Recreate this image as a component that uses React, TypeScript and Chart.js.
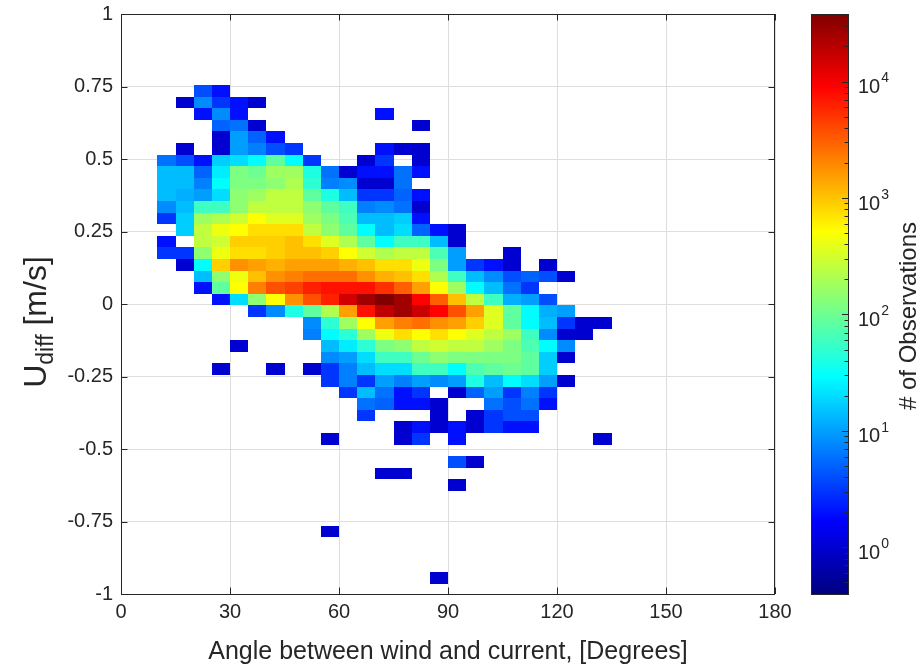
import React, { useEffect, useRef } from "react";
import { Chart, registerables } from "chart.js";

Chart.register(...registerables);

// ---------- data ----------
// bin centres of the 2-D histogram
const angleCenters = [
  12.5, 17.5, 22.5, 27.5, 32.5, 37.5, 42.5, 47.5, 52.5, 57.5, 62.5, 67.5, 72.5,
  77.5, 82.5, 87.5, 92.5, 97.5, 102.5, 107.5, 112.5, 117.5, 122.5, 127.5, 132.5,
];
const uDiffCenters = [
  0.735, 0.695, 0.655, 0.615, 0.575, 0.535, 0.495, 0.455, 0.415, 0.375, 0.335,
  0.295, 0.255, 0.215, 0.175, 0.135, 0.095, 0.055, 0.015, -0.025, -0.065,
  -0.105, -0.145, -0.185, -0.225, -0.265, -0.305, -0.345, -0.385, -0.425,
  -0.465, -0.505, -0.545, -0.585, -0.625, -0.665, -0.705, -0.745, -0.785,
  -0.825, -0.865, -0.905, -0.945,
];
const angleBinWidth = 5;
const uDiffBinHeight = 0.04;

// number of observations per cell (rows follow uDiffCenters, columns angleCenters)
const counts = [
  [0, 0, 4, 2, 0, 0, 0, 0, 0, 0, 0, 0, 0, 0, 0, 0, 0, 0, 0, 0, 0, 0, 0, 0, 0],
  [0, 1, 8, 3, 2, 1, 0, 0, 0, 0, 0, 0, 0, 0, 0, 0, 0, 0, 0, 0, 0, 0, 0, 0, 0],
  [0, 0, 2, 8, 2, 0, 0, 0, 0, 0, 0, 0, 2, 0, 0, 0, 0, 0, 0, 0, 0, 0, 0, 0, 0],
  [0, 0, 0, 5, 6, 1, 0, 0, 0, 0, 0, 0, 0, 0, 1, 0, 0, 0, 0, 0, 0, 0, 0, 0, 0],
  [0, 0, 0, 1, 10, 5, 2, 0, 0, 0, 0, 0, 0, 0, 0, 0, 0, 0, 0, 0, 0, 0, 0, 0, 0],
  [0, 1, 0, 1, 10, 7, 4, 3, 0, 0, 0, 0, 2, 1, 1, 0, 0, 0, 0, 0, 0, 0, 0, 0, 0],
  [6, 4, 2, 17, 20, 29, 85, 29, 3, 0, 0, 1, 3, 0, 1, 0, 0, 0, 0, 0, 0, 0, 0, 0, 0],
  [14, 14, 5, 24, 120, 100, 175, 175, 40, 6, 1, 2, 2, 6, 2, 0, 0, 0, 0, 0, 0, 0, 0, 0, 0],
  [14, 14, 7, 29, 120, 120, 145, 210, 48, 7, 8, 1, 1, 6, 0, 0, 0, 0, 0, 0, 0, 0, 0, 0, 0],
  [14, 12, 10, 20, 145, 175, 250, 250, 85, 40, 14, 3, 3, 5, 2, 0, 0, 0, 0, 0, 0, 0, 0, 0, 0],
  [8, 14, 59, 59, 145, 250, 250, 250, 145, 85, 59, 7, 8, 6, 1, 0, 0, 0, 0, 0, 0, 0, 0, 0, 0],
  [3, 17, 175, 210, 300, 510, 360, 360, 175, 120, 70, 14, 14, 17, 2, 0, 0, 0, 0, 0, 0, 0, 0, 0, 0],
  [0, 17, 250, 430, 510, 740, 740, 740, 250, 145, 85, 29, 14, 20, 5, 2, 1, 0, 0, 0, 0, 0, 0, 0, 0],
  [2, 0, 250, 300, 880, 880, 880, 1050, 740, 360, 210, 85, 29, 59, 59, 14, 1, 0, 0, 0, 0, 0, 0, 0, 0],
  [3, 3, 145, 430, 740, 740, 880, 1050, 1050, 880, 510, 300, 210, 250, 250, 70, 10, 0, 0, 1, 0, 0, 0, 0, 0],
  [0, 1, 29, 880, 1800, 1500, 1250, 1500, 1500, 1500, 1250, 1050, 740, 740, 430, 120, 10, 3, 2, 1, 0, 1, 0, 0, 0],
  [0, 0, 14, 145, 430, 1050, 1800, 2150, 2600, 2600, 2600, 1800, 1250, 1050, 740, 210, 59, 14, 8, 4, 5, 4, 1, 0, 0],
  [0, 0, 2, 85, 510, 2150, 3700, 4400, 6300, 7500, 7500, 7500, 5300, 3100, 1500, 510, 175, 29, 14, 6, 3, 0, 0, 0, 0],
  [0, 0, 0, 2, 20, 145, 510, 1800, 3700, 6300, 15000, 26000, 38000, 26000, 9000, 3100, 1050, 250, 59, 12, 10, 4, 0, 0, 0],
  [0, 0, 0, 0, 0, 3, 8, 40, 85, 210, 1500, 7500, 18500, 26000, 16500, 9000, 3700, 1500, 360, 85, 29, 12, 10, 0, 0],
  [0, 0, 0, 0, 0, 0, 0, 0, 8, 48, 175, 510, 1500, 2150, 2600, 1800, 1500, 880, 360, 85, 29, 14, 3, 1, 1],
  [0, 0, 0, 0, 0, 0, 0, 0, 7, 29, 48, 175, 430, 740, 510, 740, 510, 360, 250, 175, 59, 8, 1, 1, 0],
  [0, 0, 0, 0, 1, 0, 0, 0, 0, 14, 24, 48, 120, 145, 250, 300, 250, 250, 175, 120, 70, 29, 8, 0, 0],
  [0, 0, 0, 0, 0, 0, 0, 0, 0, 8, 10, 20, 59, 59, 100, 145, 120, 120, 120, 120, 85, 17, 1, 0, 0],
  [0, 0, 0, 1, 0, 0, 1, 0, 1, 3, 7, 14, 20, 20, 59, 59, 29, 70, 85, 100, 85, 17, 0, 0, 0],
  [0, 0, 0, 0, 0, 0, 0, 0, 0, 3, 7, 3, 10, 7, 10, 8, 10, 40, 14, 29, 20, 10, 1, 0, 0],
  [0, 0, 0, 0, 0, 0, 0, 0, 0, 0, 3, 14, 6, 2, 3, 0, 1, 5, 10, 3, 7, 3, 0, 0, 0],
  [0, 0, 0, 0, 0, 0, 0, 0, 0, 0, 0, 6, 5, 2, 2, 1, 0, 0, 6, 4, 6, 2, 0, 0, 0],
  [0, 0, 0, 0, 0, 0, 0, 0, 0, 0, 0, 3, 0, 0, 0, 1, 0, 1, 3, 4, 4, 0, 0, 0, 0],
  [0, 0, 0, 0, 0, 0, 0, 0, 0, 0, 0, 0, 0, 1, 2, 1, 2, 1, 3, 2, 2, 0, 0, 0, 0],
  [0, 0, 0, 0, 0, 0, 0, 0, 0, 1, 0, 0, 0, 1, 3, 0, 2, 0, 0, 0, 0, 0, 0, 0, 1],
  [0, 0, 0, 0, 0, 0, 0, 0, 0, 0, 0, 0, 0, 0, 0, 0, 0, 0, 0, 0, 0, 0, 0, 0, 0],
  [0, 0, 0, 0, 0, 0, 0, 0, 0, 0, 0, 0, 0, 0, 0, 0, 4, 1, 0, 0, 0, 0, 0, 0, 0],
  [0, 0, 0, 0, 0, 0, 0, 0, 0, 0, 0, 0, 1, 1, 0, 0, 0, 0, 0, 0, 0, 0, 0, 0, 0],
  [0, 0, 0, 0, 0, 0, 0, 0, 0, 0, 0, 0, 0, 0, 0, 0, 1, 0, 0, 0, 0, 0, 0, 0, 0],
  [0, 0, 0, 0, 0, 0, 0, 0, 0, 0, 0, 0, 0, 0, 0, 0, 0, 0, 0, 0, 0, 0, 0, 0, 0],
  [0, 0, 0, 0, 0, 0, 0, 0, 0, 0, 0, 0, 0, 0, 0, 0, 0, 0, 0, 0, 0, 0, 0, 0, 0],
  [0, 0, 0, 0, 0, 0, 0, 0, 0, 0, 0, 0, 0, 0, 0, 0, 0, 0, 0, 0, 0, 0, 0, 0, 0],
  [0, 0, 0, 0, 0, 0, 0, 0, 0, 1, 0, 0, 0, 0, 0, 0, 0, 0, 0, 0, 0, 0, 0, 0, 0],
  [0, 0, 0, 0, 0, 0, 0, 0, 0, 0, 0, 0, 0, 0, 0, 0, 0, 0, 0, 0, 0, 0, 0, 0, 0],
  [0, 0, 0, 0, 0, 0, 0, 0, 0, 0, 0, 0, 0, 0, 0, 0, 0, 0, 0, 0, 0, 0, 0, 0, 0],
  [0, 0, 0, 0, 0, 0, 0, 0, 0, 0, 0, 0, 0, 0, 0, 0, 0, 0, 0, 0, 0, 0, 0, 0, 0],
  [0, 0, 0, 0, 0, 0, 0, 0, 0, 0, 0, 0, 0, 0, 0, 1, 0, 0, 0, 0, 0, 0, 0, 0, 0],
];

const xTicks = [0, 30, 60, 90, 120, 150, 180];
const yTicks = [-1, -0.75, -0.5, -0.25, 0, 0.25, 0.5, 0.75, 1];
const colorbarExponents = [0, 1, 2, 3, 4];
const colorbarLogMin = -0.4;
const colorbarLogMax = 4.58;

const xTitle = "Angle between wind and current, [Degrees]";
const yTitleMain = "U";
const yTitleSub = "diff";
const yTitleUnit = " [m/s]";
const colorbarTitle = "# of Observations";

// ---------- styling ----------
const FONT = "'Liberation Sans', Arial, Helvetica, sans-serif";
const INK = "#262626";
const GRID = "#dedede";
const TICK_SIZE = 20;
const TITLE_SIZE = 25;
const YTITLE_SIZE = 32;
const YSUB_SIZE = 23;
const CB_LEFT = 811;
const CB_RIGHT = 849;

function jetRGB(t: number): [number, number, number] {
  const c = (v: number) => Math.round(255 * Math.min(1, Math.max(0, v)));
  return [c(1.5 - Math.abs(4 * t - 3)), c(1.5 - Math.abs(4 * t - 2)), c(1.5 - Math.abs(4 * t - 1))];
}
function countColor(n: number): string {
  const t = (Math.log10(n) - colorbarLogMin) / (colorbarLogMax - colorbarLogMin);
  const [r, g, b] = jetRGB(Math.min(1, Math.max(0, t)));
  return `rgb(${r},${g},${b})`;
}

const cells: { x: number; y: number; v: number }[] = [];
counts.forEach((row, k) =>
  row.forEach((n, i) => {
    if (n > 0) cells.push({ x: angleCenters[i], y: uDiffCenters[k], v: n });
  })
);

const heatmapPlugin = {
  id: "heatmapCells",
  beforeDatasetsDraw(chart: any) {
    const { ctx, chartArea, scales } = chart;
    const xs = scales.x;
    const ys = scales.y;
    ctx.save();
    ctx.beginPath();
    ctx.rect(chartArea.left, chartArea.top, chartArea.right - chartArea.left, chartArea.bottom - chartArea.top);
    ctx.clip();
    for (const p of chart.data.datasets[0].data as any[]) {
      const x0 = Math.round(xs.getPixelForValue(p.x - angleBinWidth / 2));
      const x1 = Math.round(xs.getPixelForValue(p.x + angleBinWidth / 2));
      const y0 = Math.round(ys.getPixelForValue(p.y + uDiffBinHeight / 2));
      const y1 = Math.round(ys.getPixelForValue(p.y - uDiffBinHeight / 2));
      ctx.fillStyle = countColor(p.v);
      ctx.fillRect(x0, y0, x1 - x0, y1 - y0);
    }
    ctx.restore();
  },
};

const decorPlugin = {
  id: "matlabDecor",
  afterDraw(chart: any) {
    const { ctx, chartArea, scales } = chart;
    const { left, right, top, bottom } = chartArea;
    const xs = scales.x;
    const ys = scales.y;
    const cb = scales.cb;
    ctx.save();
    ctx.strokeStyle = INK;
    ctx.lineWidth = 1;
    // axes box
    ctx.strokeRect(Math.round(left) + 0.5, Math.round(top) + 0.5, Math.round(right - left) - 1, Math.round(bottom - top));
    // inward ticks
    const tl = 6.5;
    ctx.beginPath();
    for (const v of xTicks) {
      const px = Math.round(xs.getPixelForValue(v)) + 0.5;
      ctx.moveTo(px, bottom);
      ctx.lineTo(px, bottom - tl);
      ctx.moveTo(px, top);
      ctx.lineTo(px, top + tl);
    }
    for (const v of yTicks) {
      const py = Math.round(ys.getPixelForValue(v)) + 0.5;
      ctx.moveTo(left, py);
      ctx.lineTo(left + tl, py);
      ctx.moveTo(right, py);
      ctx.lineTo(right - tl, py);
    }
    ctx.stroke();

    // colorbar gradient
    const cbTop = cb.top;
    const cbBottom = cb.bottom;
    const grad = ctx.createLinearGradient(0, cbBottom, 0, cbTop);
    for (const s of [0, 0.125, 0.375, 0.625, 0.875, 1]) {
      const [r, g, b] = jetRGB(s);
      grad.addColorStop(s, `rgb(${r},${g},${b})`);
    }
    ctx.fillStyle = grad;
    ctx.fillRect(CB_LEFT, cbTop, CB_RIGHT - CB_LEFT, cbBottom - cbTop);
    ctx.strokeRect(CB_LEFT + 0.5, Math.round(cbTop) + 0.5, CB_RIGHT - CB_LEFT - 1, Math.round(cbBottom - cbTop));

    // colorbar ticks
    ctx.beginPath();
    for (let e = -1; e <= 4; e++) {
      for (let m = 1; m <= 9; m++) {
        const val = m * Math.pow(10, e);
        const lg = Math.log10(val);
        if (lg < colorbarLogMin || lg > colorbarLogMax) continue;
        const py = Math.round(cb.getPixelForValue(val)) + 0.5;
        const len = m === 1 ? 6 : 3.5;
        ctx.moveTo(CB_RIGHT - 1, py);
        ctx.lineTo(CB_RIGHT - 1 - len, py);
      }
    }
    ctx.stroke();

    // colorbar labels 10^n
    ctx.fillStyle = INK;
    ctx.textAlign = "left";
    ctx.textBaseline = "middle";
    for (const e of colorbarExponents) {
      const py = cb.getPixelForValue(Math.pow(10, e));
      ctx.font = `${TICK_SIZE}px ${FONT}`;
      ctx.fillText("10", 858, py + 6);
      const w = ctx.measureText("10").width;
      ctx.font = `${Math.round(TICK_SIZE * 0.7)}px ${FONT}`;
      ctx.fillText(String(e), 858 + w + 1, py - 3);
    }

    // x title
    ctx.font = `${TITLE_SIZE}px ${FONT}`;
    ctx.textAlign = "center";
    ctx.textBaseline = "middle";
    ctx.fillText(xTitle, (left + right) / 2, 652);

    // y title with subscript
    ctx.save();
    ctx.translate(46, 322);
    ctx.rotate(-Math.PI / 2);
    ctx.textAlign = "left";
    ctx.textBaseline = "alphabetic";
    ctx.font = `${YTITLE_SIZE}px ${FONT}`;
    const wU = ctx.measureText(yTitleMain).width;
    const wUnit = ctx.measureText(yTitleUnit).width;
    ctx.font = `${YSUB_SIZE}px ${FONT}`;
    const wSub = ctx.measureText(yTitleSub).width;
    let tx = -(wU + wSub + wUnit) / 2;
    ctx.font = `${YTITLE_SIZE}px ${FONT}`;
    ctx.fillText(yTitleMain, tx, 0);
    tx += wU;
    ctx.font = `${YSUB_SIZE}px ${FONT}`;
    ctx.fillText(yTitleSub, tx, 7);
    tx += wSub;
    ctx.font = `${YTITLE_SIZE}px ${FONT}`;
    ctx.fillText(yTitleUnit, tx, 0);
    ctx.restore();

    // colorbar title
    ctx.save();
    ctx.translate(916, (cbTop + cbBottom) / 2 + 12);
    ctx.rotate(-Math.PI / 2);
    ctx.textAlign = "center";
    ctx.textBaseline = "alphabetic";
    ctx.font = `24px ${FONT}`;
    ctx.fillText(colorbarTitle, 0, 0);
    ctx.restore();

    ctx.restore();
  },
};

export default function App() {
  const canvasRef = useRef<HTMLCanvasElement | null>(null);

  useEffect(() => {
    if (!canvasRef.current) return;
    const chart = new Chart(canvasRef.current, {
      type: "scatter",
      data: {
        datasets: [
          {
            label: "cells",
            data: cells as any,
            pointRadius: 0,
            pointHoverRadius: 0,
            showLine: false,
          },
        ],
      },
      options: {
        responsive: false,
        animation: false,
        devicePixelRatio: 1,
        layout: { padding: { top: 14, left: 0, right: 0, bottom: 0 } },
        plugins: { legend: { display: false }, tooltip: { enabled: false } },
        events: [],
        scales: {
          x: {
            type: "linear",
            min: 0,
            max: 180,
            afterBuildTicks: (s: any) => {
              s.ticks = xTicks.map((v) => ({ value: v }));
            },
            afterFit: (s: any) => {
              s.height = 72;
              s.paddingLeft = 0;
              s.paddingRight = 0;
              s.paddingTop = 0;
              s.paddingBottom = 0;
            },
            grid: { color: GRID, drawTicks: false, lineWidth: 1 },
            border: { display: false },
            ticks: {
              padding: 6,
              color: INK,
              font: { family: FONT, size: TICK_SIZE },
              maxRotation: 0,
              autoSkip: false,
            },
          },
          y: {
            type: "linear",
            min: -1,
            max: 1,
            afterBuildTicks: (s: any) => {
              s.ticks = yTicks.map((v) => ({ value: v }));
            },
            afterFit: (s: any) => {
              s.width = 121;
              s.paddingLeft = 0;
              s.paddingRight = 0;
              s.paddingTop = 0;
              s.paddingBottom = 0;
            },
            grid: { color: GRID, drawTicks: false, lineWidth: 1 },
            border: { display: false },
            ticks: {
              padding: 8,
              color: INK,
              font: { family: FONT, size: TICK_SIZE },
              autoSkip: false,
              callback: (v: any) => String(v),
            },
          },
          cb: {
            type: "logarithmic",
            position: "right",
            min: Math.pow(10, colorbarLogMin),
            max: Math.pow(10, colorbarLogMax),
            afterFit: (s: any) => {
              s.width = 148;
              s.paddingLeft = 0;
              s.paddingRight = 0;
              s.paddingTop = 0;
              s.paddingBottom = 0;
            },
            grid: { display: false, drawTicks: false },
            border: { display: false },
            ticks: { display: false },
          },
        },
      },
      plugins: [heatmapPlugin, decorPlugin],
    });
    return () => chart.destroy();
  }, []);

  return (
    <div style={{ position: "absolute", left: 0, top: 0, width: 923, height: 666, background: "#fff" }}>
      <canvas ref={canvasRef} width={923} height={666} />
    </div>
  );
}
